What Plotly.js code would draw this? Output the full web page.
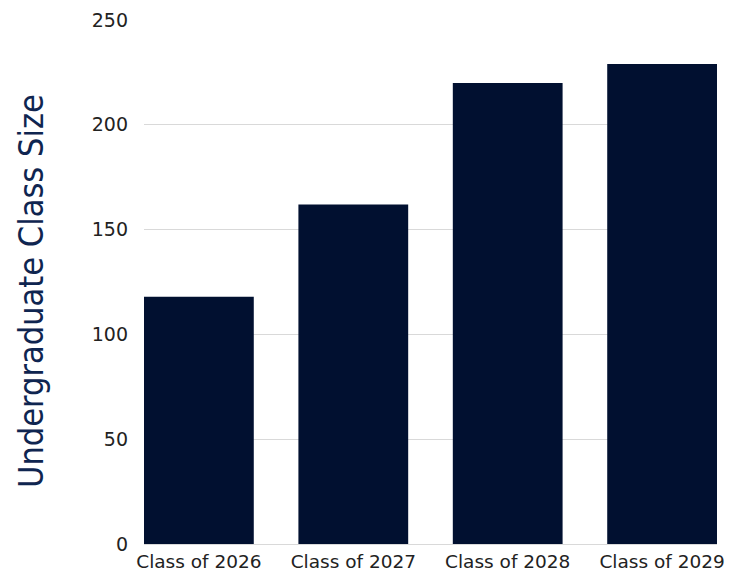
<!DOCTYPE html>
<html>
<head>
<meta charset="utf-8">
<script src="https://cdn.plot.ly/plotly-3.0.1.min.js"></script>
<style>html,body{margin:0;padding:0;background:#fff;}#chart{width:744px;height:574px;}</style>
</head>
<body>
<div id="chart"></div>
<script>
const categories = ["Class of 2026", "Class of 2027", "Class of 2028", "Class of 2029"];
const classSize = [118, 162, 220, 229];
const yTicks = [0, 50, 100, 150, 200, 250];
const yTitle = "Undergraduate Class Size";

const trace = {
  type: "bar",
  x: categories,
  y: classSize,
  marker: { color: "#011030" },
  hoverinfo: "x+y"
};

const layout = {
  width: 744,
  height: 574,
  margin: { l: 144, r: 27, t: 20, b: 30 },
  paper_bgcolor: "#ffffff",
  plot_bgcolor: "#ffffff",
  bargap: 0.289,
  showlegend: false,
  font: { family: "DejaVu Sans, sans-serif", color: "#222222" },
  xaxis: {
    type: "category",
    range: [-0.3555, 3.3555],
    tickfont: { size: 18.5, color: "#222222" },
    ticks: "",
    ticklen: 0,
    ticklabelstandoff: 4,
    showline: false,
    showgrid: false,
    automargin: false
  },
  yaxis: {
    range: [0, 250],
    tickvals: yTicks,
    ticktext: yTicks.map(String),
    tickfont: { size: 19, color: "#222222" },
    gridcolor: "#d9d9d9",
    gridwidth: 1,
    zeroline: true,
    zerolinecolor: "#d9d9d9",
    zerolinewidth: 1,
    showline: false,
    ticks: "",
    ticklabelstandoff: 15,
    automargin: false
  },
  annotations: [{
    text: yTitle,
    xref: "paper", yref: "paper",
    x: 0, y: 0.5,
    xanchor: "center", yanchor: "middle",
    xshift: -113, yshift: -9,
    textangle: -90,
    showarrow: false,
    font: { family: "DejaVu Sans Condensed, Liberation Sans Narrow, sans-serif", size: 34, color: "#0f2550" }
  }]
};

Plotly.newPlot("chart", [trace], layout, { displayModeBar: false, staticPlot: true });
</script>
</body>
</html>
